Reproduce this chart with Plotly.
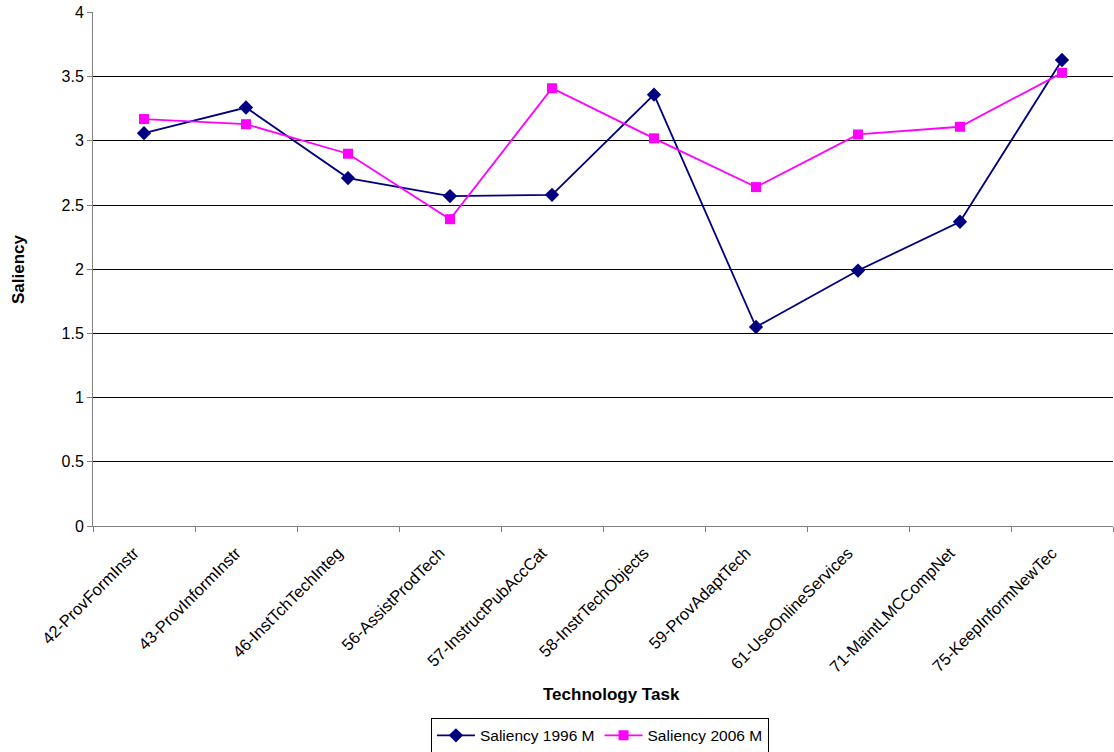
import plotly.graph_objects as go

tasks = [
    "42-ProvFormInstr", "43-ProvInformInstr", "46-InstTchTechInteg",
    "56-AssistProdTech", "57-InstructPubAccCat", "58-InstrTechObjects",
    "59-ProvAdaptTech", "61-UseOnlineServices", "71-MaintLMCCompNet",
    "75-KeepInformNewTec",
]
saliency_1996 = [3.06, 3.26, 2.71, 2.57, 2.58, 3.36, 1.55, 1.99, 2.37, 3.63]
saliency_2006 = [3.17, 3.13, 2.90, 2.39, 3.41, 3.02, 2.64, 3.05, 3.11, 3.53]
y_ticks = [0, 0.5, 1, 1.5, 2, 2.5, 3, 3.5, 4]

FONT = "Liberation Sans, Arial, sans-serif"

fig = go.Figure()
fig.add_trace(go.Scatter(
    x=tasks, y=saliency_1996, name="Saliency 1996 M", mode="lines+markers",
    line=dict(color="#000080", width=1.8),
    marker=dict(symbol="diamond", size=11, color="#000080"),
))
fig.add_trace(go.Scatter(
    x=tasks, y=saliency_2006, name="Saliency 2006 M", mode="lines+markers",
    line=dict(color="#FF00FF", width=1.8),
    marker=dict(symbol="square", size=10, color="#FF00FF"),
))

fig.update_layout(
    width=1114, height=752,
    margin=dict(l=93, r=1, t=12, b=226, autoexpand=False),
    paper_bgcolor="white", plot_bgcolor="white",
    font=dict(family=FONT, size=16, color="black"),
    showlegend=True,
    legend=dict(
        orientation="h", x=0.497, xanchor="center", y=-0.373, yanchor="top",
        bordercolor="black", borderwidth=1, font=dict(size=15.5),
        itemwidth=38, tracegroupgap=0,
    ),
    xaxis=dict(
        type="category", range=[-0.5, 9.5], tickangle=-45,
        showline=True, linecolor="#808080", linewidth=1,
        ticks="outside", ticklen=5, tickcolor="#808080",
        tickson="boundaries", showgrid=False, automargin=False,
        ticklabelstandoff=10, ticklabelshift=-10,
        tickfont=dict(size=16.5),
    ),
    yaxis=dict(
        range=[0, 4.004], tickvals=y_ticks,
        ticktext=[f"{v:g}" for v in y_ticks],
        showline=True, linecolor="#808080", linewidth=1,
        ticks="outside", ticklen=5, tickcolor="#808080",
        showgrid=True, gridcolor="black", gridwidth=1,
        zeroline=False, automargin=False, tickfont=dict(size=16),
    ),
    annotations=[
        dict(text="<b>Technology Task</b>", xref="paper", yref="paper",
             x=0.508, y=-0.327, xanchor="center", yanchor="middle",
             showarrow=False, font=dict(size=17)),
        dict(text="<b>Saliency</b>", xref="paper", yref="paper",
             x=-0.0735, y=0.5, xanchor="center", yanchor="middle",
             textangle=-90, showarrow=False, font=dict(size=17)),
    ],
)

fig.write_html("out.html")
